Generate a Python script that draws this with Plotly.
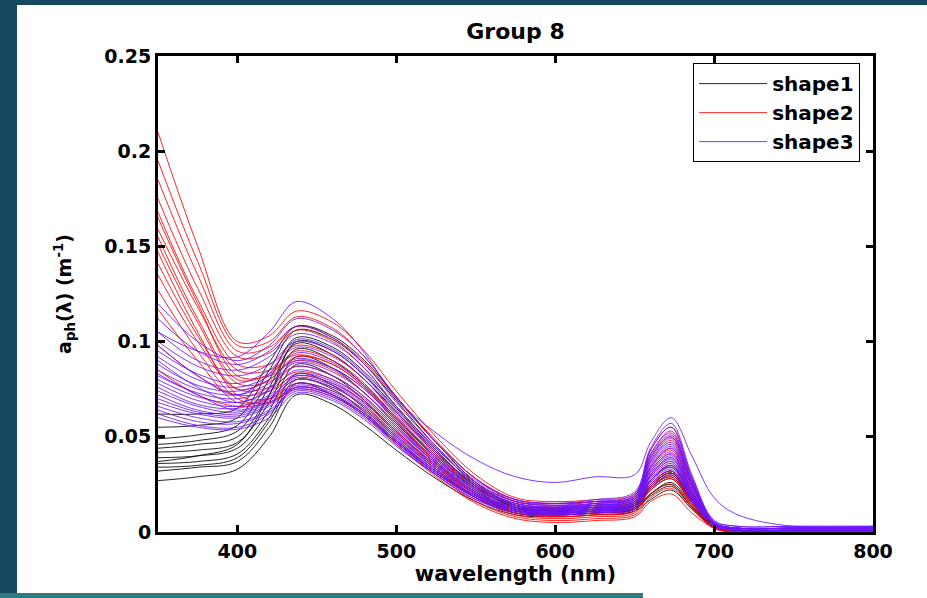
import plotly.graph_objects as go

# ---------------- data ----------------
wavelength = [350, 375, 400, 420, 437, 460, 480, 500, 525, 550, 575,
              600, 625, 650, 660, 673, 686, 700, 715, 750, 800]

shape1_curves = [
    [0.027,0.029,0.033,0.050,0.072,0.067,0.056,0.043,0.028,0.016,0.009,0.008,0.009,0.011,0.017,0.022,0.012,0.003,0.001,0.000,0.000],
    [0.032,0.034,0.037,0.055,0.078,0.072,0.061,0.047,0.031,0.018,0.010,0.009,0.010,0.012,0.019,0.024,0.013,0.003,0.001,0.000,0.000],
    [0.036,0.037,0.041,0.060,0.083,0.077,0.065,0.050,0.033,0.019,0.011,0.009,0.010,0.012,0.020,0.026,0.014,0.003,0.001,0.000,0.000],
    [0.039,0.040,0.044,0.064,0.088,0.082,0.069,0.053,0.035,0.020,0.011,0.010,0.011,0.013,0.022,0.028,0.015,0.003,0.001,0.000,0.000],
    [0.042,0.043,0.047,0.068,0.092,0.086,0.073,0.057,0.037,0.021,0.012,0.010,0.011,0.013,0.023,0.029,0.016,0.004,0.001,0.000,0.000],
    [0.044,0.046,0.050,0.072,0.096,0.090,0.077,0.060,0.039,0.022,0.012,0.010,0.011,0.014,0.023,0.030,0.016,0.004,0.001,0.000,0.000],
    [0.046,0.048,0.053,0.076,0.099,0.093,0.080,0.063,0.041,0.023,0.013,0.011,0.012,0.014,0.024,0.031,0.017,0.004,0.001,0.000,0.000],
    [0.049,0.051,0.056,0.080,0.102,0.097,0.084,0.066,0.043,0.024,0.013,0.011,0.012,0.015,0.025,0.032,0.017,0.004,0.001,0.000,0.000],
    [0.055,0.056,0.060,0.085,0.106,0.101,0.088,0.069,0.045,0.025,0.014,0.012,0.013,0.015,0.027,0.034,0.018,0.004,0.001,0.000,0.000],
    [0.062,0.062,0.065,0.089,0.108,0.103,0.090,0.071,0.047,0.026,0.014,0.012,0.013,0.016,0.027,0.035,0.019,0.005,0.001,0.000,0.000],
    [0.037,0.040,0.046,0.072,0.100,0.095,0.082,0.065,0.042,0.024,0.013,0.011,0.012,0.014,0.024,0.031,0.017,0.004,0.001,0.000,0.000],
    [0.034,0.035,0.039,0.058,0.080,0.075,0.063,0.048,0.032,0.018,0.010,0.009,0.010,0.012,0.020,0.025,0.013,0.003,0.001,0.000,0.000],
]

shape2_curves = [
    [0.210,0.150,0.100,0.103,0.116,0.110,0.095,0.074,0.050,0.030,0.018,0.016,0.017,0.020,0.043,0.055,0.028,0.005,0.001,0.000,0.000],
    [0.195,0.142,0.098,0.100,0.113,0.107,0.092,0.071,0.048,0.028,0.017,0.015,0.016,0.019,0.041,0.052,0.026,0.005,0.001,0.000,0.000],
    [0.175,0.128,0.092,0.094,0.106,0.100,0.086,0.066,0.044,0.026,0.016,0.014,0.015,0.018,0.037,0.048,0.024,0.004,0.001,0.000,0.000],
    [0.168,0.122,0.088,0.088,0.098,0.093,0.080,0.062,0.041,0.024,0.015,0.013,0.014,0.017,0.034,0.044,0.022,0.004,0.001,0.000,0.000],
    [0.159,0.118,0.085,0.085,0.093,0.088,0.076,0.059,0.039,0.023,0.014,0.013,0.014,0.016,0.032,0.041,0.021,0.004,0.001,0.000,0.000],
    [0.151,0.110,0.078,0.079,0.087,0.082,0.071,0.055,0.036,0.021,0.013,0.012,0.013,0.015,0.029,0.037,0.019,0.003,0.001,0.000,0.000],
    [0.147,0.105,0.072,0.070,0.078,0.074,0.064,0.049,0.032,0.018,0.010,0.008,0.009,0.011,0.022,0.028,0.014,0.002,0.000,0.000,0.000],
    [0.141,0.103,0.075,0.076,0.084,0.080,0.069,0.053,0.035,0.020,0.012,0.010,0.011,0.013,0.025,0.032,0.016,0.003,0.001,0.000,0.000],
    [0.127,0.095,0.070,0.068,0.075,0.071,0.061,0.046,0.029,0.015,0.007,0.005,0.006,0.008,0.016,0.020,0.010,0.002,0.000,0.000,0.000],
    [0.117,0.090,0.068,0.070,0.080,0.076,0.066,0.051,0.033,0.018,0.009,0.007,0.008,0.010,0.020,0.025,0.013,0.002,0.000,0.000,0.000],
    [0.185,0.135,0.095,0.097,0.108,0.102,0.089,0.070,0.047,0.028,0.016,0.015,0.016,0.018,0.039,0.050,0.025,0.005,0.001,0.000,0.000],
    [0.155,0.112,0.080,0.083,0.095,0.090,0.078,0.060,0.040,0.023,0.014,0.012,0.013,0.016,0.034,0.043,0.022,0.004,0.001,0.000,0.000],
    [0.098,0.082,0.072,0.074,0.082,0.078,0.068,0.053,0.034,0.019,0.010,0.008,0.009,0.011,0.023,0.029,0.015,0.003,0.000,0.000,0.000],
    [0.165,0.120,0.082,0.082,0.090,0.085,0.073,0.056,0.036,0.020,0.011,0.009,0.010,0.012,0.024,0.031,0.016,0.003,0.000,0.000,0.000],
    [0.135,0.100,0.075,0.080,0.092,0.088,0.076,0.058,0.037,0.021,0.012,0.010,0.011,0.013,0.027,0.035,0.018,0.003,0.000,0.000,0.000],
    [0.085,0.072,0.066,0.068,0.076,0.072,0.062,0.047,0.030,0.016,0.008,0.006,0.007,0.009,0.018,0.023,0.012,0.002,0.000,0.000,0.000],
]

shape3_curves = [
    [0.105,0.095,0.092,0.105,0.121,0.112,0.094,0.070,0.052,0.038,0.029,0.026,0.029,0.030,0.047,0.060,0.040,0.018,0.009,0.003,0.003],
    [0.120,0.100,0.090,0.098,0.112,0.106,0.092,0.071,0.047,0.028,0.017,0.015,0.017,0.021,0.044,0.057,0.030,0.006,0.003,0.003,0.003],
    [0.112,0.095,0.088,0.095,0.108,0.102,0.088,0.068,0.045,0.027,0.017,0.015,0.016,0.020,0.043,0.055,0.029,0.006,0.003,0.003,0.003],
    [0.105,0.090,0.085,0.092,0.104,0.099,0.086,0.066,0.044,0.026,0.016,0.014,0.016,0.019,0.041,0.053,0.028,0.005,0.002,0.002,0.002],
    [0.100,0.087,0.082,0.088,0.100,0.095,0.082,0.063,0.042,0.025,0.016,0.014,0.015,0.019,0.040,0.051,0.027,0.005,0.002,0.002,0.002],
    [0.095,0.083,0.078,0.085,0.097,0.092,0.080,0.061,0.040,0.024,0.015,0.013,0.015,0.018,0.038,0.049,0.026,0.005,0.002,0.002,0.002],
    [0.092,0.080,0.076,0.082,0.094,0.089,0.077,0.059,0.039,0.023,0.015,0.013,0.014,0.018,0.037,0.047,0.025,0.005,0.002,0.002,0.002],
    [0.088,0.077,0.074,0.080,0.091,0.086,0.075,0.058,0.038,0.023,0.014,0.013,0.014,0.017,0.035,0.045,0.024,0.005,0.002,0.002,0.002],
    [0.085,0.075,0.072,0.078,0.089,0.084,0.073,0.056,0.037,0.022,0.014,0.012,0.014,0.017,0.034,0.044,0.023,0.004,0.002,0.002,0.002],
    [0.082,0.073,0.070,0.076,0.087,0.082,0.071,0.055,0.036,0.021,0.013,0.012,0.013,0.016,0.033,0.042,0.022,0.004,0.002,0.002,0.002],
    [0.080,0.071,0.068,0.074,0.085,0.080,0.070,0.054,0.036,0.021,0.013,0.012,0.013,0.016,0.032,0.041,0.021,0.004,0.002,0.002,0.002],
    [0.078,0.069,0.066,0.072,0.083,0.079,0.068,0.052,0.035,0.020,0.013,0.011,0.013,0.015,0.031,0.040,0.021,0.004,0.002,0.002,0.002],
    [0.076,0.067,0.065,0.071,0.081,0.077,0.067,0.051,0.034,0.020,0.012,0.011,0.012,0.015,0.030,0.039,0.020,0.004,0.001,0.001,0.001],
    [0.074,0.066,0.063,0.069,0.080,0.076,0.066,0.050,0.033,0.019,0.012,0.011,0.012,0.015,0.030,0.038,0.020,0.004,0.001,0.001,0.001],
    [0.072,0.064,0.062,0.068,0.078,0.074,0.064,0.049,0.032,0.019,0.012,0.010,0.012,0.014,0.029,0.037,0.019,0.004,0.001,0.001,0.001],
    [0.070,0.063,0.061,0.067,0.077,0.073,0.063,0.048,0.032,0.019,0.012,0.010,0.011,0.014,0.028,0.036,0.019,0.003,0.001,0.001,0.001],
    [0.068,0.062,0.060,0.066,0.076,0.072,0.062,0.047,0.031,0.018,0.011,0.010,0.011,0.014,0.027,0.035,0.018,0.003,0.001,0.001,0.001],
    [0.066,0.060,0.058,0.064,0.075,0.071,0.061,0.047,0.031,0.018,0.011,0.010,0.011,0.013,0.027,0.034,0.018,0.003,0.001,0.001,0.001],
    [0.064,0.058,0.057,0.063,0.074,0.070,0.060,0.046,0.030,0.017,0.011,0.009,0.010,0.013,0.025,0.032,0.017,0.003,0.001,0.001,0.001],
    [0.062,0.056,0.055,0.062,0.076,0.072,0.062,0.048,0.031,0.018,0.011,0.010,0.011,0.013,0.026,0.033,0.017,0.003,0.001,0.001,0.001],
    [0.060,0.055,0.054,0.060,0.073,0.069,0.059,0.045,0.030,0.017,0.010,0.009,0.010,0.012,0.023,0.030,0.016,0.003,0.001,0.001,0.001],
    [0.098,0.082,0.072,0.083,0.101,0.096,0.083,0.064,0.042,0.025,0.015,0.013,0.015,0.018,0.039,0.050,0.026,0.005,0.002,0.002,0.002],
    [0.090,0.076,0.068,0.075,0.090,0.086,0.075,0.058,0.038,0.022,0.014,0.012,0.014,0.017,0.036,0.046,0.024,0.005,0.002,0.002,0.002],
    [0.083,0.072,0.064,0.070,0.082,0.078,0.068,0.052,0.034,0.020,0.012,0.011,0.012,0.015,0.030,0.039,0.020,0.004,0.001,0.001,0.001],
]

series_names = ["shape1", "shape2", "shape3"]
series_colors = ["#000000", "#ff0000", "#6e14ff"]

x_tickvals = [400, 500, 600, 700, 800]
y_tickvals = [0, 0.05, 0.1, 0.15, 0.2, 0.25]
y_ticktext = ["0", "0.05", "0.1", "0.15", "0.2", "0.25"]

# ---------------- figure ----------------
FONT = "DejaVu Sans"
fig = go.Figure()

for name, color, curves in zip(series_names, series_colors,
                               [shape1_curves, shape2_curves, shape3_curves]):
    for i, vals in enumerate(curves):
        fig.add_trace(go.Scatter(
            x=wavelength, y=vals, mode="lines", name=name,
            legendgroup=name, showlegend=(i == 0),
            line=dict(color=color, width=1, shape="spline", smoothing=1.0),
            opacity=0.85,
        ))

# plot area: px 158..873 horizontally, 56..532 vertically
L, R, T, B = 158, 54, 56, 66
W, H = 927, 598
pw, ph = W - L - R, H - T - B

def px(x):
    return (x - L) / pw

def py(y):
    return (H - B - y) / ph

shapes = [
    dict(type="rect", xref="paper", yref="paper", layer="below",
         x0=px(17), x1=px(940), y0=py(610), y1=py(5),
         fillcolor="white", line=dict(width=0)),
    dict(type="rect", xref="paper", yref="paper", layer="below",
         x0=px(-10), x1=px(643), y0=py(610), y1=py(593),
         fillcolor="#2f7a80", line=dict(width=0)),
]

axis_common = dict(
    showline=True, linecolor="black", linewidth=3, mirror="ticks",
    ticks="inside", ticklen=7, tickwidth=3, tickcolor="black",
    showgrid=False, zeroline=False,
    tickfont=dict(family=FONT, size=19, color="black", weight="bold"),
)

fig.update_layout(
    width=W, height=H,
    margin=dict(l=L, r=R, t=T, b=B),
    paper_bgcolor="#164861",
    plot_bgcolor="white",
    shapes=shapes,
    title=dict(text="Group 8", x=0.5, xref="paper", xanchor="center",
               y=1 - 31 / H, yref="container", yanchor="middle",
               font=dict(family=FONT, size=22, color="black", weight="bold")),
    xaxis=dict(range=[350, 800], tickvals=x_tickvals,
               title=dict(text="wavelength (nm)", standoff=3,
                          font=dict(family=FONT, size=21, color="black", weight="bold")),
               **axis_common),
    yaxis=dict(range=[0, 0.25], tickvals=y_tickvals, ticktext=y_ticktext,
               title=dict(text="a<sub>ph</sub>(λ) (m<sup>-1</sup>)", standoff=28,
                          font=dict(family=FONT, size=19, color="black", weight="bold")),
               **axis_common),
    legend=dict(x=0.982, xanchor="right", y=0.985, yanchor="top",
                bgcolor="white", bordercolor="black", borderwidth=1,
                font=dict(family=FONT, size=20, color="black", weight="bold"),
                itemwidth=68, tracegroupgap=0),
    showlegend=True,
)

fig.write_html("out.html",
               config={"displayModeBar": False},
               post_script="document.body.style.margin='0px';"
                           "document.body.style.overflow='hidden';")
